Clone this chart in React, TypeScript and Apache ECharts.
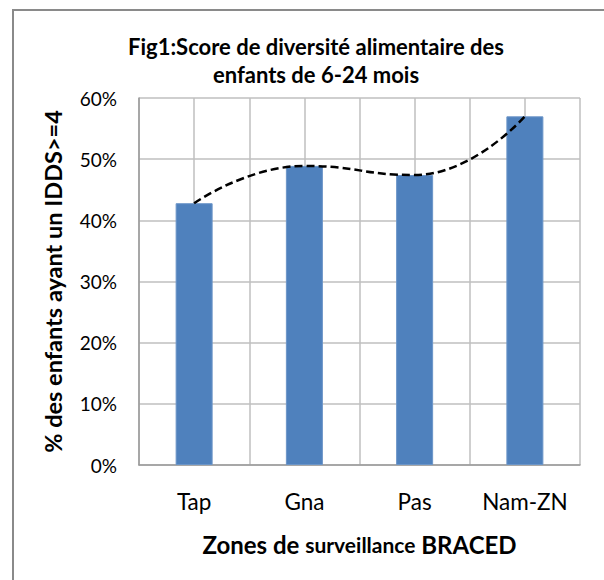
import React, { useEffect, useRef } from "react";
import * as echarts from "echarts";

const categories = ["Tap", "Gna", "Pas", "Nam-ZN"];
const values = [0.428, 0.489, 0.474, 0.57];
const yTicks = [0, 0.1, 0.2, 0.3, 0.4, 0.5, 0.6];
const titleLines = ["Fig1:Score de diversité alimentaire des", "enfants de 6-24 mois"];
const yTitle = "% des enfants ayant un IDDS>=4";
const xTitleParts = ["Zones de ", "surveillance", " BRACED"];

const FONT = "Lato, 'Open Sans', sans-serif";

export default function App() {
  const ref = useRef<HTMLDivElement>(null);
  useEffect(() => {
    const chart = echarts.init(ref.current!, null, { renderer: "svg" });
    chart.setOption({
      animation: false,
      backgroundColor: "#ffffff",
      textStyle: { fontFamily: FONT },
      title: {
        text: titleLines.join("\n"),
        left: 311,
        top: 27,
        textAlign: "center",
        textStyle: { fontFamily: FONT, fontWeight: "bold", fontSize: 22, lineHeight: 28, color: "#000" },
      },
      graphic: [
        {
          type: "rect",
          shape: { x: 13, y: 10, width: 640, height: 620 },
          style: { fill: "none", stroke: "#8a8a8a", lineWidth: 2 },
          silent: true,
        },
      ],
      grid: { left: 139, top: 98, right: 24, bottom: 115 },
      xAxis: [
        {
          type: "category",
          data: categories,
          axisLine: { show: true, lineStyle: { color: "#9a9a9a", width: 1.5 } },
          axisTick: { show: false },
          splitLine: { show: false },
          axisLabel: { color: "#000", fontSize: 22.5, margin: 25, fontFamily: FONT, interval: 0, hideOverlap: false },
          name: "{a|" + xTitleParts[0] + "}{b|" + xTitleParts[1] + "}{a|" + xTitleParts[2] + "}",
          nameLocation: "middle",
          nameGap: 67,
          nameTextStyle: {
            color: "#000",
            fontFamily: FONT,
            rich: {
              a: { fontFamily: FONT, fontWeight: "bold", fontSize: 24, color: "#000" },
              b: { fontFamily: FONT, fontWeight: "bold", fontSize: 21, color: "#000" },
            },
          },
        },
        {
          type: "value",
          min: 0,
          max: 8,
          interval: 1,
          position: "bottom",
          axisLine: { show: false },
          axisTick: { show: false },
          axisLabel: { show: false },
          splitLine: { show: true, lineStyle: { color: "#bfbfbf", width: 1.5 } },
        },
      ],
      yAxis: {
        type: "value",
        min: 0,
        max: 0.6,
        interval: 0.1,
        axisLine: { show: true, lineStyle: { color: "#9a9a9a", width: 1.5 } },
        axisTick: { show: false },
        splitLine: { show: true, lineStyle: { color: "#bfbfbf", width: 1.5 } },
        axisLabel: {
          color: "#000",
          fontSize: 19,
          margin: 22,
          fontFamily: FONT,
          formatter: (v: number) => (yTicks.includes(Math.round(v * 10) / 10) ? Math.round(v * 100) + "%" : ""),
        },
        name: yTitle,
        nameLocation: "middle",
        nameGap: 74,
        nameRotate: 90,
        nameTextStyle: { color: "#000", fontFamily: FONT, fontWeight: "bold", fontSize: 23.5 },
      },
      series: [
        {
          type: "bar",
          xAxisIndex: 0,
          data: values,
          barWidth: 37,
          itemStyle: { color: "#4F81BD", borderColor: "#6b95c8", borderWidth: 1 },
          z: 2,
        },
        {
          type: "line",
          xAxisIndex: 0,
          data: values,
          smooth: 0.5,
          symbol: "none",
          lineStyle: { color: "#000", width: 2.5, type: [8, 4] },
          z: 3,
        },
      ],
    });
    return () => chart.dispose();
  }, []);
  return <div ref={ref} style={{ position: "absolute", left: 0, top: 0, width: 604, height: 580 }} />;
}
